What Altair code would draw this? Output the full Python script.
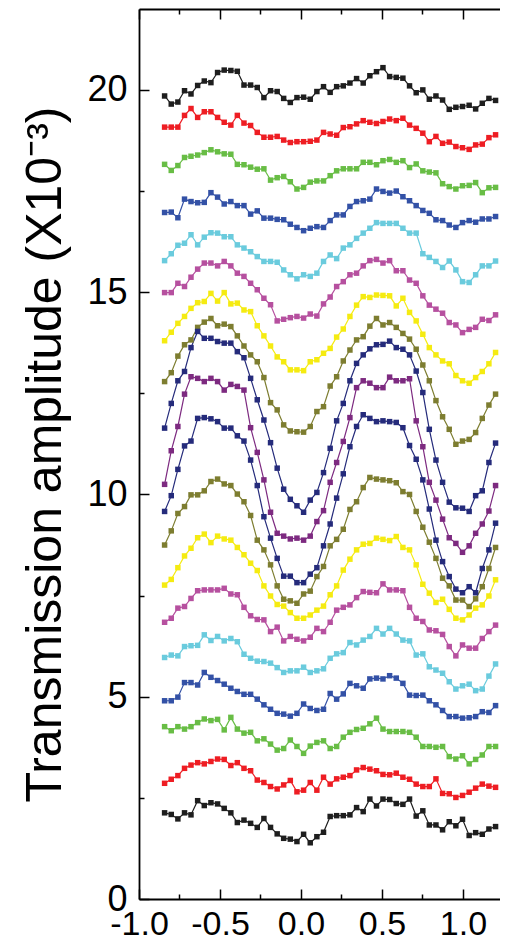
import altair as alt
import pandas as pd

x_vals = [-0.842, -0.801, -0.760, -0.719, -0.679, -0.638, -0.597, -0.556, -0.515, -0.474,
          -0.433, -0.393, -0.352, -0.311, -0.270, -0.229, -0.188, -0.147, -0.107, -0.066,
          -0.025, 0.016, 0.057, 0.098, 0.139, 0.180, 0.220, 0.261, 0.302, 0.343,
          0.384, 0.425, 0.466, 0.506, 0.547, 0.588, 0.629, 0.670, 0.711, 0.752,
          0.792, 0.833, 0.874, 0.915, 0.956, 0.997, 1.038, 1.078, 1.119, 1.160, 1.201]

series_names = ["s01", "s02", "s03", "s04", "s05", "s06", "s07", "s08", "s09", "s10",
                "s11", "s12", "s13", "s14", "s15", "s16", "s17", "s18", "s19"]
series_colors = ["#1E1E1E", "#EE1D23", "#68BD45", "#3351A6", "#6ACBDD", "#B6509F", "#F5EB11",
                 "#7D7D30", "#252B7B", "#7D2A80", "#252B7B", "#7D7D30", "#F5EB11", "#B6509F",
                 "#6ACBDD", "#3351A6", "#68BD45", "#EE1D23", "#1E1E1E"]

s01 = [19.85, 19.65, 19.70, 19.98, 19.90, 20.11, 20.22, 20.18, 20.43, 20.49,
       20.48, 20.46, 20.12, 20.12, 20.06, 19.81, 19.98, 19.96, 19.79, 19.69,
       19.81, 19.82, 19.77, 19.96, 20.08, 19.94, 20.08, 20.10, 20.17, 20.28,
       20.17, 20.35, 20.45, 20.55, 20.33, 20.31, 20.29, 20.10, 19.93, 20.00,
       19.77, 19.85, 19.75, 19.52, 19.57, 19.59, 19.62, 19.53, 19.67, 19.79, 19.74]
s02 = [19.08, 19.08, 19.08, 19.37, 19.54, 19.32, 19.46, 19.46, 19.32, 19.20,
       19.13, 19.37, 19.18, 19.12, 18.95, 18.83, 18.83, 18.85, 18.76, 18.70,
       18.72, 18.72, 18.73, 18.76, 18.95, 18.91, 18.88, 19.07, 19.09, 19.16,
       19.24, 19.20, 19.17, 19.22, 19.28, 19.24, 19.30, 19.13, 19.05, 18.93,
       18.72, 18.85, 18.68, 18.71, 18.60, 18.57, 18.53, 18.64, 18.66, 18.82, 18.89]
s03 = [18.16, 18.01, 18.13, 18.33, 18.36, 18.39, 18.45, 18.52, 18.47, 18.42,
       18.41, 18.16, 18.15, 18.09, 18.04, 18.05, 17.77, 17.83, 17.86, 17.73,
       17.55, 17.59, 17.72, 17.75, 17.75, 17.88, 18.00, 18.05, 18.05, 18.05,
       18.21, 18.21, 18.15, 18.25, 18.28, 18.21, 18.25, 18.08, 18.17, 18.00,
       17.97, 17.95, 17.68, 17.61, 17.55, 17.63, 17.64, 17.71, 17.46, 17.58, 17.59]
s04 = [16.97, 16.98, 16.84, 17.30, 17.24, 17.21, 17.22, 17.46, 17.35, 17.18,
       17.24, 17.14, 17.14, 16.93, 17.01, 16.83, 16.83, 16.80, 16.79, 16.68,
       16.60, 16.52, 16.58, 16.62, 16.60, 16.77, 16.91, 16.91, 17.12, 17.24,
       17.26, 17.30, 17.55, 17.49, 17.45, 17.50, 17.36, 17.26, 17.14, 17.02,
       16.95, 16.79, 16.77, 16.66, 16.60, 16.72, 16.77, 16.73, 16.81, 16.81, 16.87]
s05 = [15.78, 15.95, 16.16, 16.21, 16.42, 16.17, 16.36, 16.47, 16.46, 16.37,
       16.37, 16.17, 16.09, 16.00, 15.88, 15.76, 15.76, 15.74, 15.55, 15.43,
       15.33, 15.43, 15.39, 15.47, 15.76, 15.92, 15.83, 16.09, 16.17, 16.33,
       16.46, 16.58, 16.72, 16.70, 16.70, 16.70, 16.58, 16.46, 16.46, 15.95,
       15.86, 15.76, 15.61, 15.77, 15.55, 15.26, 15.24, 15.43, 15.65, 15.65, 15.77]
s06 = [14.99, 14.99, 15.22, 15.14, 15.37, 15.57, 15.72, 15.72, 15.65, 15.76,
       15.65, 15.47, 15.39, 15.22, 15.06, 14.85, 14.69, 14.29, 14.33, 14.37,
       14.40, 14.36, 14.46, 14.41, 14.71, 14.88, 15.14, 15.26, 15.43, 15.47,
       15.65, 15.78, 15.81, 15.72, 15.78, 15.53, 15.53, 15.30, 15.22, 14.91,
       14.68, 14.58, 14.48, 14.25, 14.19, 14.00, 14.08, 14.13, 14.33, 14.30, 14.44]
s07 = [13.80, 14.01, 14.23, 14.40, 14.60, 14.74, 14.77, 14.97, 14.78, 14.99,
       14.71, 14.73, 14.56, 14.52, 14.17, 13.92, 13.67, 13.40, 13.28, 13.08,
       13.08, 13.06, 13.28, 13.33, 13.49, 13.61, 13.89, 14.09, 14.40, 14.68,
       14.89, 14.87, 14.93, 14.92, 14.91, 14.66, 14.85, 14.50, 14.29, 13.96,
       13.63, 13.45, 13.30, 13.23, 12.94, 12.81, 12.75, 12.89, 13.04, 13.23, 13.51]
s08 = [12.79, 13.01, 13.42, 13.70, 13.82, 14.13, 14.26, 14.35, 14.17, 14.21,
       14.15, 13.92, 13.67, 13.45, 13.28, 12.89, 12.27, 12.09, 11.72, 11.57,
       11.55, 11.54, 11.68, 12.05, 12.17, 12.68, 12.91, 13.30, 13.57, 13.82,
       13.90, 14.16, 14.35, 14.19, 14.25, 14.13, 13.98, 13.84, 13.59, 13.20,
       12.81, 12.32, 11.92, 11.61, 11.24, 11.32, 11.36, 11.53, 11.88, 12.21, 12.48]
s09 = [11.64, 12.25, 12.81, 13.04, 13.63, 14.03, 13.86, 13.86, 13.78, 13.74,
       13.74, 13.53, 13.38, 12.87, 12.34, 11.84, 11.28, 10.65, 10.13, 9.88,
       9.72, 9.56, 9.86, 10.05, 10.54, 11.14, 11.82, 12.25, 12.81, 13.24,
       13.45, 13.60, 13.70, 13.71, 13.79, 13.63, 13.59, 13.45, 13.05, 12.52,
       11.61, 10.85, 10.30, 9.81, 9.67, 9.66, 9.58, 9.97, 10.09, 10.79, 11.27]
s10 = [10.25, 11.08, 11.68, 12.48, 12.91, 12.87, 12.79, 12.87, 12.79, 12.58,
       12.72, 12.67, 12.58, 11.65, 11.04, 10.36, 9.56, 9.04, 8.97, 8.90,
       8.92, 8.87, 8.97, 9.33, 9.60, 10.30, 10.79, 11.31, 11.90, 12.64,
       12.81, 12.75, 12.64, 12.64, 12.90, 12.81, 12.81, 12.86, 11.82, 11.18,
       10.30, 9.86, 9.39, 8.93, 8.79, 8.57, 8.73, 9.04, 9.27, 9.59, 10.22]
s11 = [9.58, 9.97, 10.62, 11.20, 11.32, 11.88, 11.90, 11.87, 11.80, 11.64,
       11.64, 11.45, 11.32, 10.85, 10.22, 9.45, 8.92, 8.42, 7.98, 7.98,
       7.82, 7.82, 8.03, 8.19, 8.73, 9.27, 9.91, 10.51, 11.18, 11.68,
       11.97, 11.88, 11.80, 11.82, 11.80, 11.78, 11.65, 11.21, 10.87, 10.36,
       9.64, 8.87, 8.34, 7.97, 7.66, 7.57, 7.72, 7.57, 8.17, 8.63, 9.29]
s12 = [8.75, 9.10, 9.53, 9.70, 9.99, 9.99, 10.09, 10.32, 10.38, 10.26,
       10.22, 10.01, 9.82, 9.48, 8.87, 8.63, 8.26, 7.74, 7.41, 7.37,
       7.31, 7.54, 7.61, 7.97, 8.22, 8.73, 8.89, 9.14, 9.63, 9.82,
       10.17, 10.42, 10.38, 10.36, 10.34, 10.29, 10.07, 10.00, 9.58, 9.19,
       8.82, 8.42, 7.93, 7.74, 7.39, 7.39, 7.23, 7.42, 7.72, 8.17, 8.69]
s13 = [7.76, 7.90, 8.19, 8.48, 8.67, 8.93, 9.02, 8.81, 8.97, 8.90,
       8.87, 8.69, 8.51, 8.30, 8.12, 7.74, 7.49, 7.28, 7.24, 7.08,
       6.94, 6.94, 7.02, 7.14, 7.24, 7.52, 7.74, 8.13, 8.40, 8.63,
       8.77, 8.79, 8.92, 8.89, 8.86, 8.96, 8.69, 8.63, 8.26, 7.78,
       7.56, 7.33, 7.41, 7.16, 6.94, 6.90, 7.02, 7.19, 7.27, 7.49, 7.89]
s14 = [6.84, 6.94, 7.19, 7.23, 7.43, 7.62, 7.64, 7.64, 7.64, 7.68,
       7.54, 7.52, 7.21, 7.00, 6.91, 6.90, 6.61, 6.72, 6.38, 6.49,
       6.42, 6.38, 6.47, 6.69, 6.61, 6.84, 7.14, 7.21, 7.27, 7.45,
       7.60, 7.58, 7.57, 7.79, 7.64, 7.64, 7.62, 7.21, 6.94, 6.86,
       6.65, 6.63, 6.54, 6.24, 6.01, 6.28, 6.20, 6.20, 6.44, 6.61, 6.77]
s15 = [5.97, 6.03, 6.01, 6.24, 6.26, 6.27, 6.53, 6.39, 6.49, 6.38,
       6.44, 6.36, 6.05, 5.95, 5.88, 5.87, 5.83, 5.72, 5.60, 5.64,
       5.64, 5.73, 5.60, 5.64, 5.69, 5.95, 6.06, 6.09, 6.34, 6.28,
       6.40, 6.49, 6.69, 6.55, 6.69, 6.55, 6.40, 6.38, 6.03, 6.06,
       5.74, 5.66, 5.58, 5.37, 5.19, 5.27, 5.31, 5.15, 5.19, 5.51, 5.81]
s16 = [4.90, 4.90, 4.99, 5.35, 5.35, 5.29, 5.60, 5.48, 5.40, 5.31,
       5.21, 5.13, 5.06, 5.06, 4.94, 4.80, 4.69, 4.59, 4.57, 4.52,
       4.59, 4.82, 4.71, 4.66, 4.69, 5.08, 4.94, 5.07, 5.33, 5.27,
       5.21, 5.44, 5.46, 5.44, 5.52, 5.46, 5.33, 5.04, 5.03, 5.04,
       4.90, 4.80, 4.66, 4.51, 4.51, 4.47, 4.48, 4.51, 4.63, 4.61, 4.78]
s17 = [4.26, 4.16, 4.26, 4.20, 4.26, 4.36, 4.45, 4.41, 4.44, 4.18,
       4.49, 4.20, 4.10, 4.12, 3.91, 3.96, 3.83, 3.68, 3.72, 3.93,
       3.77, 3.60, 3.78, 3.87, 3.91, 3.72, 3.77, 4.00, 4.12, 4.19,
       4.22, 4.33, 4.47, 4.20, 4.14, 4.14, 4.14, 4.12, 4.00, 3.77,
       3.77, 3.75, 3.77, 3.52, 3.46, 3.54, 3.34, 3.45, 3.56, 3.77, 3.77]
s18 = [2.86, 2.96, 3.05, 3.23, 3.31, 3.37, 3.34, 3.40, 3.46, 3.45,
       3.30, 3.37, 3.23, 3.17, 2.94, 2.88, 2.78, 2.72, 2.82, 2.93,
       2.65, 2.69, 2.88, 2.69, 3.01, 2.84, 2.97, 3.01, 3.05, 3.19,
       3.25, 3.21, 3.17, 3.08, 3.07, 3.11, 3.01, 2.96, 2.84, 2.78,
       2.78, 2.97, 2.61, 2.60, 2.51, 2.56, 2.64, 2.74, 2.84, 2.79, 2.76]
s19 = [2.13, 2.09, 1.98, 2.13, 2.08, 2.43, 2.31, 2.38, 2.35, 2.24,
       2.13, 1.89, 1.95, 1.87, 1.77, 1.99, 1.77, 1.61, 1.50, 1.48,
       1.42, 1.60, 1.39, 1.54, 1.65, 2.04, 2.06, 2.06, 2.08, 2.26,
       2.16, 2.47, 2.30, 2.47, 2.46, 2.36, 2.34, 2.47, 2.05, 2.18,
       1.83, 1.83, 1.71, 1.91, 1.81, 1.97, 1.57, 1.64, 1.60, 1.73, 1.79]

series_values = [s01, s02, s03, s04, s05, s06, s07, s08, s09, s10,
                 s11, s12, s13, s14, s15, s16, s17, s18, s19]

x_major = [-1.0, -0.5, 0.0, 0.5, 1.0]
x_minor = [-0.75, -0.25, 0.25, 0.75]
y_major = [0, 5, 10, 15, 20]
y_minor = [2.5, 7.5, 12.5, 17.5]
y_title = "Transmission amplitude (X10\u207b\u00b3)"

rows = []
for name, vals in zip(series_names, series_values):
    for xv, yv in zip(x_vals, vals):
        rows.append({"x": xv, "y": yv, "series": name})
df = pd.DataFrame(rows)

FONT = "Liberation Sans"
xscale = alt.Scale(domain=[-1.0, 1.2284], nice=False, zero=False)
yscale = alt.Scale(domain=[0, 22], nice=False, zero=False)
color = alt.Color("series:N", scale=alt.Scale(domain=series_names, range=series_colors), legend=None)


def tick_axis(orient, values, size, labels=False, **extra):
    kw = dict(orient=orient, values=values, tickSize=size, offset=-size, domain=False,
              grid=False, title=None, labels=labels, ticks=True, tickColor="black",
              tickWidth=1.5)
    kw.update(extra)
    return alt.Axis(**kw)


def frame_axis(orient):
    return alt.Axis(orient=orient, domain=True, domainColor="black", domainWidth=1.8,
                    ticks=False, labels=False, grid=False, title=None, offset=0)


x_bottom = tick_axis("bottom", x_major, 10, True,
                     labelExpr="replace(format(datum.value, '.1f'), '\u2212', '-')",
                     labelFont=FONT, labelFontSize=34, labelColor="black",
                     labelPadding=8, labelFlush=False, labelOverlap=False)
y_left = alt.Axis(orient="left", values=y_major, tickSize=10, offset=-10, domain=False,
                  grid=False, ticks=True, tickColor="black", tickWidth=1.5,
                  labels=True, format="d", labelFont=FONT, labelFontSize=36,
                  labelColor="black", labelPadding=12, labelFlush=False, labelOverlap=False,
                  title=y_title, titleFont=FONT, titleFontSize=50, titleFontWeight="normal",
                  titleColor="black", titlePadding=16)

base = alt.Chart(df)

lines = base.mark_line(strokeWidth=1.2).encode(
    x=alt.X("x:Q", scale=xscale, axis=x_bottom),
    y=alt.Y("y:Q", scale=yscale, axis=y_left),
    color=color,
    detail="series:N",
)
points = base.mark_point(shape="square", filled=True, size=30, opacity=1).encode(
    x=alt.X("x:Q", scale=xscale, axis=tick_axis("top", x_major, 10)),
    y=alt.Y("y:Q", scale=yscale, axis=tick_axis("left", y_minor, 5)),
    color=color,
)
minor_bottom = base.mark_point(opacity=0).encode(
    x=alt.X("x:Q", scale=xscale, axis=tick_axis("bottom", x_minor, 5)),
    y=alt.Y("y:Q", scale=yscale, axis=frame_axis("left")),
)
minor_top = base.mark_point(opacity=0).encode(
    x=alt.X("x:Q", scale=xscale, axis=tick_axis("top", x_minor, 5)),
    y=alt.Y("y:Q", scale=yscale, axis=None),
)
frame_bottom = base.mark_point(opacity=0).encode(
    x=alt.X("x:Q", scale=xscale, axis=frame_axis("bottom")),
    y=alt.Y("y:Q", scale=yscale, axis=None),
)
frame_top = base.mark_point(opacity=0).encode(
    x=alt.X("x:Q", scale=xscale, axis=frame_axis("top")),
    y=alt.Y("y:Q", scale=yscale, axis=None),
)

chart = alt.layer(lines, points, minor_bottom, minor_top, frame_bottom, frame_top).resolve_axis(
    x="independent", y="independent"
).properties(
    width=361,
    height=890,
    autosize=alt.AutoSizeParams(type="none"),
    padding={"left": 131, "top": 1, "right": 0, "bottom": 43},
    background="white",
).configure_view(stroke=None)

chart.save("out.html", embed_options={"renderer": "svg", "actions": False})
